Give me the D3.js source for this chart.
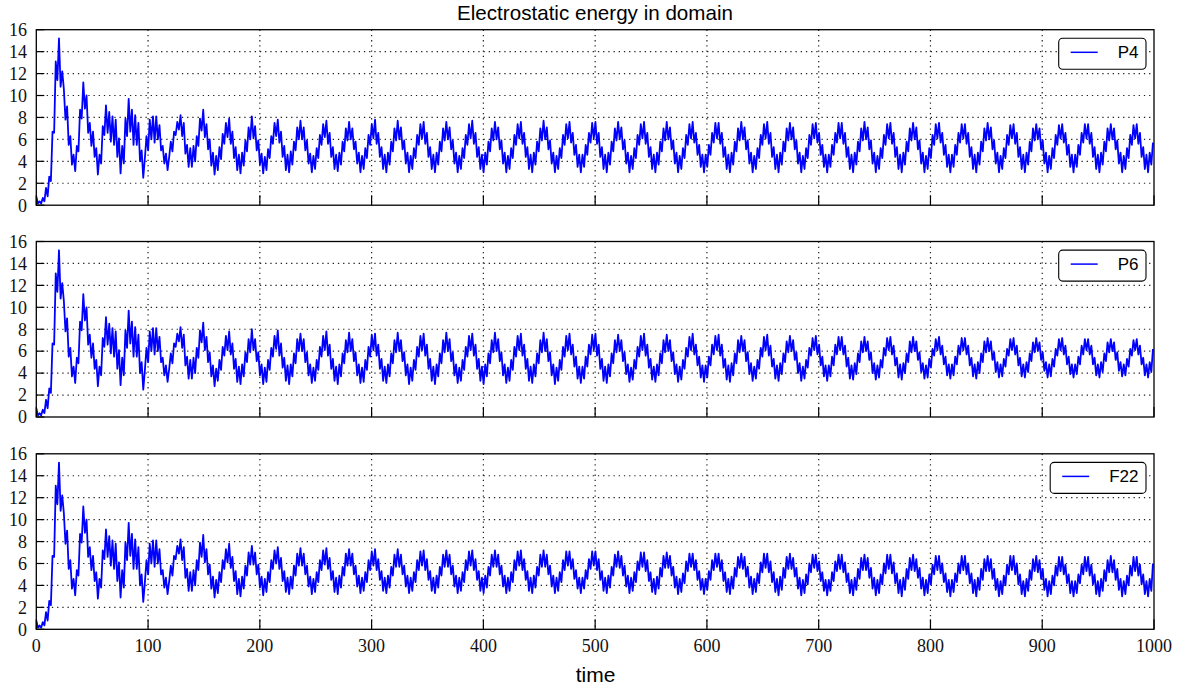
<!DOCTYPE html>
<html><head><meta charset="utf-8">
<script src="https://cdn.jsdelivr.net/npm/d3@7"></script>
<style>body{margin:0;background:#fff}</style>
</head><body><svg id="c" width="1182" height="688"></svg>
<script>
const tStep = 1.45;
const xTicks = [0,100,200,300,400,500,600,700,800,900,1000];
const yTicks = [0,2,4,6,8,10,12,14,16];
const seriesNames = ["P4","P6","F22"];
const titleText = "Electrostatic energy in domain";
const xLabel = "time";

// shared start-up transient (identical in all three panels)
const transient = [0.8,0.15,0.35,0.15,0.66,0.36,1.57,0.8,2.6,2.2,
6.7,6.6,13.1,11.4,15.2,10.8,12.2,10.6,7.8,9.0,
5.5,6.3,3.7,4.6,3.1,5.4,4.9,8.7,7.9,11.2,
8.8,10.0,6.6,7.5,5.4,6.7,4.4,5.2,2.8,4.6,
3.8,7.2,6.4,9.1,6.6,8.5,5.8,8.1,5.5,7.8,
4.4,6.1,2.9,5.4,3.8,7.9,6.3,9.7,6.7,8.7,
5.5,8.2,5.5,7.5,4.0,5.0,2.5,4.3,6.3,5.0,
7.8,6.0,8.1,5.7,8.1,6.0,7.3,5.0,5.4,3.8,
4.7,3.2,4.4,5.8,4.9,6.7,6.4,7.6,6.9,8.2,
6.3,7.5,4.7,5.5,3.5,5.2,3.5,5.4,4.0,6.3,
5.4,7.9];

const p4Steady = [6.8,
8.7,6.2,7.4,5.1,6.0,3.6,4.8,2.8,4.5,3.2,5.3,4.2,6.5,5.6,7.5,
6.2,7.9,5.6,6.7,4.3,5.3,3.2,4.6,2.9,4.8,3.6,5.9,4.9,7.1,6.0,
8.1,6.1,7.2,5.0,5.9,3.7,4.7,2.9,4.4,3.2,5.1,4.3,6.3,5.6,7.5,
6.3,7.8,5.7,6.7,4.4,5.4,3.2,4.6,3.0,4.9,3.7,5.8,5.0,7.1,6.0,
7.7,6.0,7.1,5.0,5.9,3.8,4.7,3.0,4.5,3.3,5.2,4.3,6.4,5.5,7.4,
6.2,7.7,5.6,6.6,4.4,5.3,3.3,4.6,3.1,4.8,3.7,5.8,4.9,7.0,5.9,
7.6,6.0,7.0,5.1,5.8,3.8,4.8,3.0,4.5,3.3,5.2,4.3,6.4,5.5,7.4,
6.1,7.8,5.6,6.6,4.4,5.3,3.3,4.6,3.0,4.8,3.7,5.8,4.9,7.0,5.9,
7.7,6.0,7.1,5.1,5.9,3.8,4.8,3.0,4.5,3.3,5.2,4.3,6.4,5.5,7.4,
6.1,7.6,5.6,6.6,4.4,5.3,3.3,4.6,3.0,4.8,3.7,5.8,4.9,7.0,5.9,
7.6,6.0,7.1,5.1,5.9,3.8,4.8,3.0,4.5,3.3,5.2,4.3,6.4,5.5,7.4,
6.1,7.7,5.6,6.6,4.4,5.3,3.3,4.6,3.0,4.8,3.7,5.8,4.9,7.0,5.9,
7.6,6.0,7.1,5.1,5.9,3.8,4.8,3.0,4.5,3.3,5.2,4.3,6.4,5.5,7.4,
6.1,7.6,5.6,6.6,4.4,5.3,3.3,4.6,3.0,4.8,3.7,5.8,4.9,7.0,5.9,
7.7,6.0,7.1,5.1,5.9,3.8,4.8,3.0,4.5,3.3,5.2,4.3,6.4,5.5,7.4,
6.1,7.6,5.7,6.6,4.6,5.5,3.5,4.6,3.0,4.6,3.5,5.5,4.6,6.6,5.7,7.5,
6.1,7.6,5.6,6.6,4.4,5.3,3.3,4.6,3.0,4.8,3.7,5.8,4.9,7.0,5.9,
7.6,6.0,7.1,5.1,5.9,3.8,4.8,3.0,4.5,3.3,5.2,4.3,6.4,5.5,7.4,
6.1,7.6,5.6,6.6,4.4,5.3,3.3,4.6,3.0,4.8,3.7,5.8,4.9,7.0,5.9,
7.6,6.0,7.1,5.1,5.9,3.8,4.8,3.0,4.5,3.3,5.2,4.3,6.4,5.5,7.4,
6.1,7.6,5.7,6.6,4.6,5.5,3.5,4.6,3.0,4.6,3.5,5.5,4.6,6.6,5.7,7.5,
6.1,7.5,5.6,6.6,4.4,5.3,3.3,4.6,3.0,4.8,3.7,5.8,4.9,7.0,5.9,
7.6,6.0,7.1,5.1,5.9,3.8,4.8,3.0,4.5,3.3,5.2,4.3,6.4,5.5,7.4,
6.1,7.6,5.6,6.6,4.4,5.3,3.3,4.6,3.0,4.8,3.7,5.8,4.9,7.0,5.9,
7.5,6.0,7.1,5.1,5.9,3.8,4.8,3.0,4.5,3.3,5.2,4.3,6.4,5.5,7.4,
6.1,7.5,5.7,6.6,4.6,5.5,3.5,4.6,3.0,4.6,3.5,5.5,4.6,6.6,5.7,7.5,
6.1,7.5,5.6,6.6,4.4,5.3,3.3,4.6,3.0,4.8,3.7,5.8,4.9,7.0,5.9,
7.6,6.0,7.1,5.1,5.9,3.8,4.8,3.0,4.5,3.3,5.2,4.3,6.4,5.5,7.4,
6.1,7.5,5.6,6.6,4.4,5.3,3.3,4.6,3.0,4.8,3.7,5.8,4.9,7.0,5.9,
7.5,6.0,7.1,5.1,5.9,3.8,4.8,3.0,4.5,3.3,5.2,4.3,6.4,5.5,7.4,
6.1,7.5,5.7,6.6,4.6,5.5,3.5,4.6,3.0,4.6,3.5,5.5,4.6,6.6,5.7,7.4,
6.1,7.4,5.6,6.6,4.4,5.3,3.3,4.6,3.0,4.8,3.7,5.8,4.9,7.0,5.9,
7.5,6.0,7.1,5.1,5.9,3.8,4.8,3.0,4.5,3.3,5.2,4.3,6.4,5.5,7.3,
6.1,7.4,5.6,6.6,4.4,5.3,3.3,4.6,3.0,4.8,3.7,5.8,4.9,7.0,5.9,
7.4,6.0,7.0,5.1,5.9,3.8,4.8,3.0,4.5,3.3,5.2,4.3,6.4,5.5,7.3,
6.1,7.4,5.7,6.6,4.6,5.5,3.5,4.6,3.0,4.6,3.5,5.5,4.6,6.6,5.7,7.4,
6.1,7.4,5.6,6.6,4.4,5.3,3.3,4.6,3.0,4.8,3.7,5.8,4.9,7.0,5.9,
7.4,6.0,7.0,5.1,5.9,3.8,4.8,3.0,4.5,3.3,5.2,4.3,6.4,5.5,7.3,
6.1,7.4,5.6,6.6,4.4,5.3,3.3,4.6,3.0,4.8,3.7,5.7];

const p6Steady = [6.8,
8.6,6.1,7.3,5.0,5.9,3.7,4.7,2.8,4.4,3.3,5.2,4.3,6.4,5.6,7.4,
6.1,7.8,5.7,6.7,4.4,5.3,3.2,4.6,3.0,4.8,3.7,5.9,5.0,7.1,5.9,
8.0,6.1,7.1,5.1,5.9,3.8,4.8,3.0,4.5,3.2,5.2,4.3,6.3,5.5,7.4,
6.2,7.9,5.6,6.7,4.5,5.4,3.3,4.7,3.0,4.8,3.7,5.8,4.9,7.1,6.0,
7.6,6.0,7.1,5.0,5.9,3.8,4.8,3.1,4.5,3.3,5.2,4.3,6.4,5.5,7.4,
6.1,7.8,5.6,6.6,4.4,5.3,3.3,4.6,3.0,4.8,3.7,5.8,4.9,7.0,5.9,
7.7,6.0,7.1,5.1,5.9,3.8,4.8,3.1,4.5,3.2,5.2,4.3,6.4,5.5,7.5,
6.1,7.6,5.6,6.6,4.4,5.3,3.3,4.6,3.1,4.8,3.7,5.8,4.9,7.0,5.9,
7.7,6.0,7.0,5.1,5.9,3.8,4.8,3.0,4.5,3.3,5.2,4.3,6.4,5.5,7.4,
6.1,7.6,5.6,6.6,4.4,5.3,3.3,4.6,3.0,4.8,3.7,5.8,4.9,7.0,5.9,
7.7,6.0,7.1,5.1,5.9,3.8,4.8,3.1,4.5,3.3,5.2,4.3,6.4,5.5,7.4,
6.1,7.6,5.6,6.6,4.4,5.3,3.3,4.6,3.0,4.8,3.7,5.8,4.9,7.0,5.9,
7.7,6.0,7.1,5.1,5.9,3.8,4.8,3.1,4.5,3.3,5.2,4.3,6.4,5.5,7.4,
6.1,7.6,5.6,6.6,4.4,5.3,3.3,4.6,3.1,4.8,3.7,5.8,4.9,7.0,5.9,
7.7,6.0,7.1,5.1,5.9,3.8,4.8,3.0,4.5,3.3,5.2,4.3,6.4,5.5,7.4,
6.1,7.6,5.7,6.6,4.6,5.5,3.5,4.6,3.1,4.6,3.5,5.5,4.6,6.6,5.7,7.5,
6.1,7.6,5.6,6.6,4.4,5.3,3.3,4.6,3.1,4.8,3.7,5.8,4.9,7.0,5.9,
7.5,6.0,7.0,5.1,5.9,3.9,4.8,3.2,4.5,3.4,5.2,4.4,6.4,5.5,7.4,
6.1,7.6,5.6,6.6,4.5,5.3,3.4,4.6,3.2,4.8,3.8,5.8,4.9,7.0,5.9,
7.5,6.0,7.0,5.1,5.9,3.9,4.8,3.2,4.6,3.4,5.2,4.4,6.3,5.5,7.3,
6.1,7.6,5.7,6.6,4.7,5.5,3.6,4.7,3.2,4.7,3.6,5.5,4.7,6.6,5.7,7.4,
6.1,7.5,5.6,6.6,4.5,5.3,3.4,4.7,3.2,4.9,3.8,5.8,4.9,7.0,5.9,
7.4,6.0,7.0,5.1,5.9,3.9,4.9,3.3,4.6,3.5,5.2,4.4,6.3,5.5,7.3,
6.1,7.5,5.6,6.5,4.6,5.3,3.5,4.7,3.3,4.9,3.9,5.8,5.0,6.9,5.9,
7.4,6.0,7.0,5.2,5.9,4.0,4.9,3.3,4.6,3.5,5.2,4.5,6.3,5.6,7.2,
6.1,7.4,5.7,6.6,4.7,5.5,3.7,4.7,3.3,4.7,3.7,5.5,4.7,6.6,5.7,7.3,
6.1,7.3,5.7,6.5,4.6,5.4,3.5,4.7,3.4,4.9,3.9,5.8,5.0,6.9,5.9,
7.3,6.0,6.9,5.2,5.9,4.0,4.9,3.4,4.7,3.6,5.2,4.5,6.3,5.6,7.2,
6.1,7.3,5.7,6.5,4.7,5.4,3.6,4.8,3.4,4.9,4.0,5.8,5.0,6.9,5.9,
7.3,6.0,6.9,5.2,5.9,4.1,4.9,3.5,4.7,3.6,5.3,4.5,6.2,5.6,7.1,
6.1,7.3,5.7,6.5,4.8,5.5,3.8,4.8,3.5,4.8,3.8,5.5,4.8,6.5,5.7,7.2,
6.1,7.2,5.7,6.5,4.7,5.4,3.7,4.8,3.5,5.0,4.0,5.8,5.0,6.9,5.9,
7.2,6.0,6.9,5.2,5.9,4.1,5.0,3.6,4.8,3.7,5.3,4.6,6.2,5.6,7.1,
6.1,7.2,5.7,6.5,4.7,5.4,3.7,4.8,3.6,5.0,4.1,5.8,5.1,6.8,5.9,
7.2,6.0,6.8,5.2,5.9,4.2,5.0,3.6,4.8,3.7,5.3,4.6,6.2,5.6,7.1,
6.1,7.2,5.7,6.5,4.8,5.5,3.9,4.8,3.6,4.8,3.9,5.5,4.8,6.5,5.7,7.1,
6.1,7.1,5.7,6.5,4.8,5.4,3.8,4.8,3.6,5.0,4.1,5.8,5.1,6.8,5.9,
7.1,6.0,6.8,5.2,5.9,4.2,5.0,3.7,4.8,3.8,5.3,4.6,6.2,5.6,7.0,
6.1,7.1,5.7,6.5,4.8,5.4,3.8,4.8,3.6,5.0,4.1,6.2];

const f22Steady = [6.6,
8.6,6.1,7.3,5.0,5.9,3.7,4.8,2.9,4.5,3.3,5.2,4.3,6.3,5.5,7.3,
6.1,7.8,5.6,6.6,4.4,5.3,3.2,4.6,3.0,4.8,3.7,5.8,4.9,7.0,5.9,
7.6,5.9,7.0,5.0,5.9,3.8,4.8,3.1,4.6,3.4,5.2,4.3,6.3,5.5,7.2,
6.0,7.5,5.5,6.5,4.4,5.3,3.4,4.7,3.2,4.8,3.7,5.8,4.9,6.9,5.8,
7.4,5.8,6.9,5.0,5.8,3.9,4.8,3.2,4.6,3.4,5.2,4.3,6.3,5.4,7.2,
5.9,7.4,5.5,6.5,4.5,5.3,3.4,4.7,3.2,4.9,3.8,5.7,4.9,6.9,5.8,
7.3,5.8,6.9,5.0,5.8,3.9,4.9,3.3,4.7,3.5,5.2,4.3,6.3,5.4,7.1,
5.8,7.3,5.4,6.4,4.5,5.3,3.5,4.7,3.3,4.9,3.8,5.7,4.9,6.8,5.7,
7.3,5.7,6.8,5.0,5.8,3.9,4.9,3.3,4.7,3.5,5.2,4.3,6.3,5.4,7.1,
5.8,7.2,5.4,6.4,4.5,5.3,3.5,4.7,3.3,4.9,3.8,5.7,4.9,6.8,5.7,
7.2,5.7,6.8,5.0,5.8,3.9,4.9,3.3,4.7,3.5,5.2,4.3,6.3,5.4,7.1,
5.8,7.2,5.4,6.4,4.5,5.3,3.5,4.7,3.3,4.9,3.8,5.7,4.9,6.8,5.7,
7.2,5.7,6.8,5.0,5.8,3.9,4.9,3.3,4.7,3.5,5.2,4.3,6.3,5.4,7.1,
5.8,7.2,5.4,6.4,4.5,5.3,3.5,4.7,3.3,4.9,3.8,5.7,4.9,6.8,5.7,
7.2,5.7,6.8,5.0,5.8,3.9,4.9,3.3,4.7,3.5,5.2,4.3,6.3,5.4,7.1,
5.8,7.1,5.5,6.4,4.6,5.4,3.7,4.7,3.3,4.7,3.7,5.4,4.6,6.4,5.5,7.1,
5.8,7.1,5.4,6.4,4.5,5.3,3.5,4.7,3.3,4.9,3.8,5.7,4.9,6.8,5.7,
7.1,5.6,6.7,4.9,5.8,3.9,4.9,3.3,4.7,3.5,5.2,4.3,6.2,5.4,7.0,
5.7,7.0,5.3,6.3,4.4,5.2,3.4,4.6,3.2,4.8,3.7,5.6,4.8,6.7,5.6,
7.0,5.6,6.7,4.9,5.7,3.8,4.8,3.2,4.6,3.4,5.1,4.2,6.2,5.3,6.9,
5.7,6.9,5.4,6.3,4.5,5.3,3.6,4.6,3.2,4.6,3.6,5.3,4.5,6.3,5.4,6.9,
5.7,6.9,5.3,6.3,4.4,5.2,3.4,4.6,3.2,4.8,3.7,5.6,4.8,6.6,5.6,
6.9,5.5,6.6,4.8,5.7,3.8,4.8,3.2,4.6,3.4,5.1,4.2,6.1,5.2,6.9,
5.6,6.9,5.2,6.2,4.3,5.2,3.4,4.6,3.1,4.8,3.6,5.6,4.7,6.6,5.5,
6.9,5.5,6.5,4.8,5.6,3.7,4.7,3.1,4.5,3.3,5.0,4.1,6.0,5.2,6.8,
5.6,6.8,5.3,6.2,4.4,5.2,3.5,4.5,3.1,4.5,3.5,5.2,4.4,6.2,5.3,6.8,
5.5,6.8,5.2,6.1,4.3,5.1,3.3,4.5,3.1,4.7,3.6,5.5,4.6,6.5,5.4,
6.8,5.4,6.5,4.7,5.6,3.7,4.7,3.1,4.5,3.3,5.0,4.1,6.0,5.1,6.8,
5.5,6.8,5.1,6.1,4.2,5.1,3.3,4.5,3.0,4.7,3.6,5.5,4.6,6.5,5.4,
6.8,5.3,6.4,4.7,5.6,3.7,4.7,3.1,4.5,3.3,5.0,4.1,5.9,5.0,6.7,
5.4,6.7,5.1,6.0,4.3,5.1,3.4,4.5,3.0,4.5,3.4,5.1,4.3,6.0,5.1,6.7,
5.4,6.7,5.0,6.0,4.2,5.1,3.3,4.5,3.0,4.7,3.6,5.5,4.5,6.4,5.3,
6.7,5.3,6.4,4.6,5.5,3.6,4.6,3.0,4.4,3.2,4.9,4.0,5.9,5.0,6.7,
5.4,6.7,5.0,6.0,4.1,5.0,3.2,4.4,3.0,4.6,3.5,5.4,4.5,6.4,5.3,
6.7,5.2,6.3,4.6,5.5,3.6,4.6,3.0,4.4,3.2,4.9,4.0,5.8,4.9,6.6,
5.3,6.6,5.0,5.9,4.2,5.0,3.3,4.4,3.0,4.4,3.3,5.0,4.2,5.9,5.0,6.6,
5.3,6.6,4.9,5.9,4.1,5.0,3.2,4.4,3.0,4.6,3.5,5.4,4.4,6.3,5.2,
6.7,5.2,6.3,4.5,5.5,3.6,4.6,3.0,4.4,3.2,4.9,4.0,5.8,4.9,6.6,
5.3,6.6,4.9,5.9,4.1,5.0,3.2,4.4,3.0,4.6,3.5,6.0];

const seriesValues = [transient.concat(p4Steady), transient.concat(p6Steady), transient.concat(f22Steady)];

const svg = d3.select("#c");
svg.append("rect").attr("width",1182).attr("height",688).attr("fill","#fff");

const left = 36.3, right = 1154, panelH = 175.5;
const tops = [29.7, 241.5, 453.8];
const x = d3.scaleLinear().domain([0,1000]).range([left,right]);

svg.append("defs").selectAll("clipPath").data(tops).join("clipPath")
  .attr("id",(d,i)=>"clip"+i).append("rect")
  .attr("x",left).attr("y",d=>d).attr("width",right-left).attr("height",panelH);

seriesNames.forEach((name, pi) => {
  const top = tops[pi];
  const y = d3.scaleLinear().domain([0,16]).range([top+panelH, top]);
  const g = svg.append("g");
  g.selectAll("line.hg").data(yTicks.slice(1,-1)).join("line")
    .attr("x1",left).attr("x2",right).attr("y1",d=>y(d)).attr("y2",d=>y(d))
    .attr("stroke","#222").attr("stroke-width",1.2).attr("stroke-dasharray","1.3,3.9");
  g.selectAll("line.vg").data(xTicks.slice(1,-1)).join("line")
    .attr("y1",top).attr("y2",top+panelH).attr("x1",d=>x(d)).attr("x2",d=>x(d))
    .attr("stroke","#222").attr("stroke-width",1.2).attr("stroke-dasharray","1.3,3.9");
  const vals = seriesValues[pi];
  const line = d3.line().x((d,i)=>x(i*tStep)).y(d=>y(d));
  g.append("path").datum(vals).attr("d",line).attr("fill","none")
    .attr("stroke","#0000ff").attr("stroke-width",1.8).attr("stroke-linejoin","round")
    .attr("clip-path","url(#clip"+pi+")");
  g.selectAll("line.xt").data(xTicks).join("line")
    .attr("x1",d=>x(d)).attr("x2",d=>x(d)).attr("y1",top+panelH).attr("y2",top+panelH-10)
    .attr("stroke","#000").attr("stroke-width",1.2);
  g.selectAll("line.yt").data(yTicks).join("line")
    .attr("x1",left).attr("x2",left+8).attr("y1",d=>y(d)).attr("y2",d=>y(d))
    .attr("stroke","#000").attr("stroke-width",1.2);
  g.append("rect").attr("x",left).attr("y",top).attr("width",right-left).attr("height",panelH)
    .attr("fill","none").attr("stroke","#000").attr("stroke-width",1.3);
  g.selectAll("text.yl").data(yTicks).join("text")
    .attr("x",27).attr("y",d=>y(d)).attr("dy","0.35em").attr("text-anchor","end")
    .attr("font-family","Liberation Serif").attr("font-size",18).attr("fill","#111")
    .text(d=>d);
  const lg = svg.append("g");
  const txt = lg.append("text").attr("x",1138.5).attr("y",top+28.6).attr("text-anchor","end")
    .attr("font-family","Liberation Sans").attr("font-size",17).attr("fill","#000").text(name);
  const tw = txt.node().getComputedTextLength();
  const lineEnd = 1138.5 - tw - 20, lineStart = lineEnd - 27;
  lg.insert("rect","text").attr("x",lineStart-12).attr("y",top+8.6).attr("width",1146-(lineStart-12)).attr("height",31)
    .attr("rx",4).attr("fill","#fff").attr("stroke","#000").attr("stroke-width",1.1);
  lg.append("line").attr("x1",lineStart).attr("x2",lineEnd).attr("y1",top+22.6).attr("y2",top+22.6)
    .attr("stroke","#0000ff").attr("stroke-width",1.5);
});

svg.selectAll("text.xl").data(xTicks).join("text")
  .attr("x",d=>x(d)).attr("y",651.5).attr("text-anchor","middle")
  .attr("font-family","Liberation Serif").attr("font-size",18).attr("fill","#111").text(d=>d);

svg.append("text").attr("x",595).attr("y",19.5).attr("text-anchor","middle")
  .attr("font-family","Liberation Sans").attr("font-size",20.6).attr("fill","#000").text(titleText);
svg.append("text").attr("x",595.5).attr("y",682).attr("text-anchor","middle")
  .attr("font-family","Liberation Sans").attr("font-size",21).attr("fill","#000").text(xLabel);
</script></body></html>
